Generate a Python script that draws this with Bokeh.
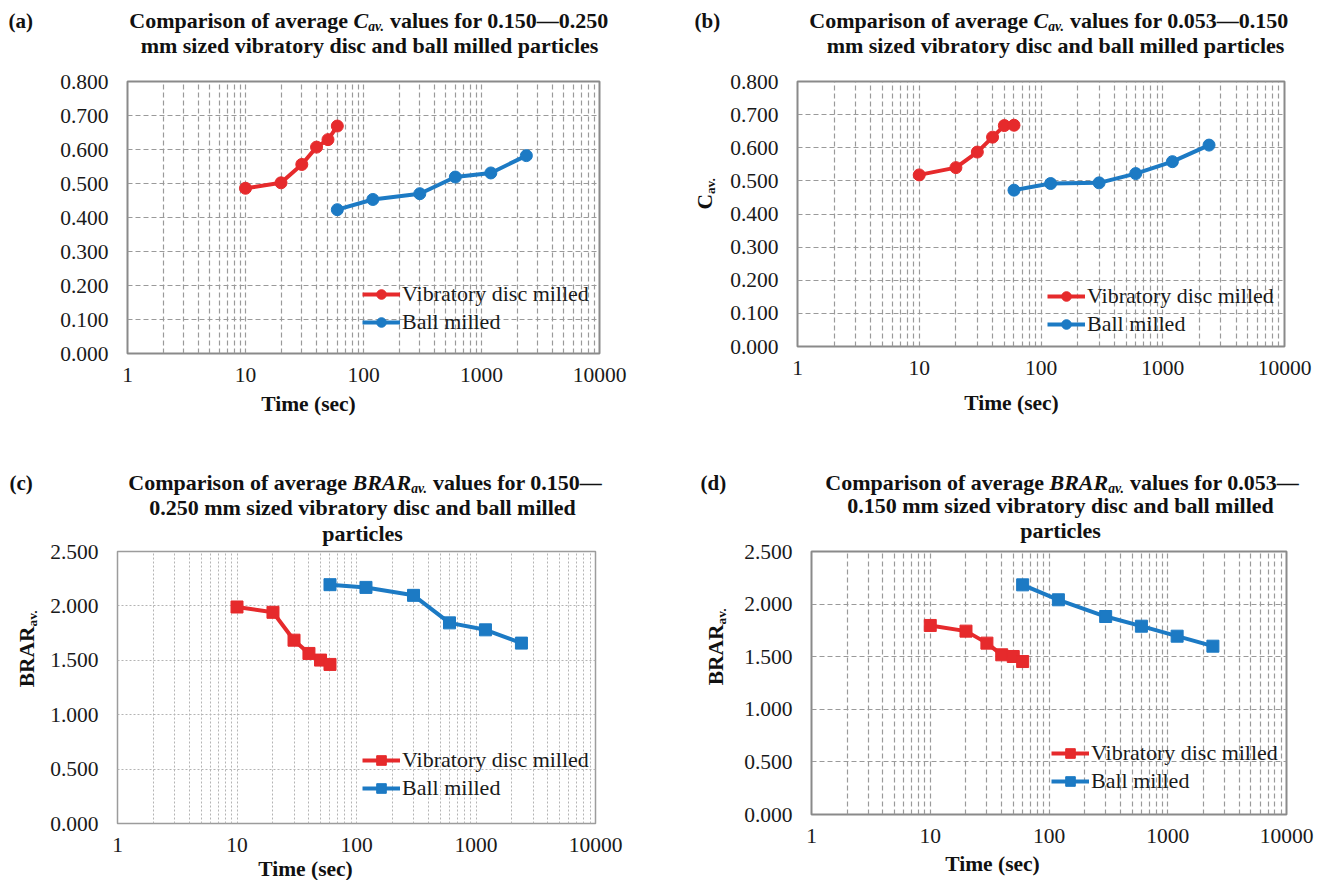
import math
from bokeh.plotting import figure
from bokeh.models import (FixedTicker, NumeralTickFormatter, PrintfTickFormatter,
                          Label, Legend, LegendItem, Range1d)
from bokeh.layouts import column, row
from bokeh.embed import file_html
from bokeh.resources import INLINE

# ---------------- data ----------------
time_vdm = [10, 20, 30, 40, 50, 60]
time_bm = [60, 120, 300, 600, 1200, 2400]

cav_a_vdm = [0.486, 0.502, 0.556, 0.607, 0.629, 0.669]
cav_a_bm = [0.423, 0.453, 0.470, 0.519, 0.531, 0.582]
cav_b_vdm = [0.518, 0.540, 0.587, 0.632, 0.667, 0.668]
cav_b_bm = [0.472, 0.492, 0.494, 0.522, 0.558, 0.608]
brar_c_vdm = [1.990, 1.941, 1.685, 1.563, 1.502, 1.462]
brar_c_bm = [2.195, 2.170, 2.097, 1.844, 1.780, 1.658]
brar_d_vdm = [1.797, 1.743, 1.629, 1.518, 1.502, 1.454]
brar_d_bm = [2.183, 2.041, 1.882, 1.790, 1.695, 1.600]

x_major = [1, 10, 100, 1000, 10000]
x_minor = [m * 10 ** e for e in range(4) for m in range(2, 10)]
cav_ticks = [0.0, 0.1, 0.2, 0.3, 0.4, 0.5, 0.6, 0.7, 0.8]
brar_ticks = [0.0, 0.5, 1.0, 1.5, 2.0, 2.5]
series_names = ["Vibratory disc milled", "Ball milled"]

RED = "#E62A2C"
BLUE = "#1C7AC4"
FONT = "Liberation Serif"
TXT = "#111111"

# approximate advance widths (per 1000 em) of Times-like bold faces
BOLD = {' ': 250, '(': 333, ')': 333, '.': 250, '\u2014': 1000, '-': 333}
for d in "0123456789":
    BOLD[d] = 500
BOLD.update(dict(A=722, B=667, C=722, D=722, E=667, F=611, G=778, H=778, I=389, J=500,
                 K=778, L=667, M=944, N=722, O=778, P=611, Q=778, R=722, S=556, T=667,
                 U=722, V=722, W=1000, X=722, Y=722, Z=667))
BOLD.update(dict(a=500, b=556, c=444, d=556, e=444, f=333, g=500, h=556, i=278, j=333,
                 k=556, l=278, m=833, n=556, o=500, p=556, q=556, r=444, s=389, t=333,
                 u=556, v=500, w=722, x=500, y=500, z=444))
BOLDIT = dict(BOLD)
BOLDIT.update({'A': 667, 'B': 667, 'C': 667, 'R': 667, 'a': 500, 'v': 444, '.': 250})


def tw(text, style, px):
    table = BOLDIT if "italic" in style else BOLD
    return sum(table.get(c, 500) for c in text) * px / 1000.0


# ---------------- full-page transparent text layer ----------------
PAGE_W, PAGE_H = 1325, 880
ov = figure(width=PAGE_W, height=PAGE_H, x_range=Range1d(0, PAGE_W),
            y_range=Range1d(PAGE_H, 0), x_axis_type=None, y_axis_type=None,
            output_backend="svg", toolbar_location=None,
            min_border_left=0, min_border_right=0, min_border_top=0, min_border_bottom=0,
            styles={"position": "absolute", "top": "0px", "left": "0px",
                    "z-index": "10", "pointer-events": "none"})
ov.outline_line_color = None
ov.background_fill_alpha = 0
ov.border_fill_alpha = 0
ov.grid.visible = False


def label(text, gx, gy, size, style="bold", align="left", angle=0.0):
    ov.add_layout(Label(x=gx, y=gy, text=text, text_font=FONT,
                        text_font_size=f"{size:.1f}px", text_font_style=style,
                        text_color=TXT, text_align=align, text_baseline="middle",
                        angle=angle))


def title_line1(lead, word, tail, anchor, cy, size, sub_scale=0.62, sub_dy=6):
    """lead (bold) | word (bold italic) + 'av.' subscript | tail (bold)"""
    space = tw(" ", "bold", size)
    label(lead, anchor - space, cy, size, align="right")
    label(word, anchor, cy, size, style="bold italic")
    x = anchor + tw(word, "bold italic", size)
    label("av.", x, cy + sub_dy, size * sub_scale, style="bold italic")
    x += tw("av.", "bold italic", size * sub_scale)
    label(tail, x + space, cy, size)


def rich_v(word, cx, cy, size, sub_scale=0.62, sub_dx=6):
    w1 = tw(word, "bold", size)
    w2 = tw("av.", "bold", size * sub_scale)
    ybot = cy + (w1 + w2) / 2.0
    label(word, cx, ybot, size, angle=math.pi / 2)
    label("av.", cx + sub_dx, ybot - w1, size * sub_scale, angle=math.pi / 2)


def make_panel(W, H, borders, yr, yticks, vdm, bm, marker, grid_style, legend_loc):
    left, right, top, bottom = borders
    p = figure(width=W, height=H, x_axis_type="log", output_backend="svg",
               toolbar_location=None, x_range=Range1d(1, 10000), y_range=Range1d(*yr),
               min_border_left=left, min_border_right=right,
               min_border_top=top, min_border_bottom=bottom)
    p.background_fill_color = "white"
    p.border_fill_color = "white"
    gcol, gdash, gw, ocol, ow = grid_style
    p.outline_line_color = ocol
    p.outline_line_width = ow

    p.xaxis.ticker = FixedTicker(ticks=x_major, minor_ticks=x_minor)
    p.xaxis.formatter = PrintfTickFormatter(format="%d")
    p.yaxis.ticker = FixedTicker(ticks=yticks)
    p.yaxis.formatter = NumeralTickFormatter(format="0.000")
    for ax in (p.xaxis, p.yaxis):
        ax.axis_line_color = None
        ax.major_tick_line_color = None
        ax.minor_tick_line_color = None
        ax.major_tick_out = 0
        ax.minor_tick_out = 0
        ax.major_label_text_font = FONT
        ax.major_label_text_font_size = "21.5px"
        ax.major_label_text_color = "#1a1a1a"
    p.xaxis.major_label_standoff = 14
    p.yaxis.major_label_standoff = 19

    p.xgrid.ticker = FixedTicker(ticks=x_major, minor_ticks=x_minor)
    p.xgrid.grid_line_color = gcol
    p.xgrid.grid_line_dash = gdash
    p.xgrid.grid_line_width = gw
    p.xgrid.minor_grid_line_color = gcol
    p.xgrid.minor_grid_line_dash = gdash
    p.xgrid.minor_grid_line_width = gw
    p.ygrid.ticker = FixedTicker(ticks=yticks)
    p.ygrid.grid_line_color = gcol
    p.ygrid.grid_line_dash = gdash
    p.ygrid.grid_line_width = gw

    l1 = p.line(time_vdm, vdm, line_width=4, color=RED)
    s1 = p.scatter(time_vdm, vdm, marker=marker, size=12, color=RED)
    l2 = p.line(time_bm, bm, line_width=4, color=BLUE)
    s2 = p.scatter(time_bm, bm, marker=marker, size=12, color=BLUE)

    legend = Legend(items=[LegendItem(label=series_names[0], renderers=[l1, s1]),
                           LegendItem(label=series_names[1], renderers=[l2, s2])],
                    location=legend_loc, background_fill_alpha=0, border_line_color=None,
                    padding=0, margin=0, spacing=2, glyph_width=38, glyph_height=24,
                    label_height=24, label_standoff=2,
                    label_text_font=FONT, label_text_font_size="22px",
                    label_text_color="#1a1a1a")
    p.add_layout(legend)
    return p


STRONG = ("#9a9a9a", "5 3", 1.2, "#8a8a8a", 2)
LIGHT = ("#b4b4b4", "2 2", 1, "#9c9c9c", 1.5)
TS = 22      # title font size
AS = 21.5    # axis title font size

# Row 1 starts at page y=0, row 2 at page y=447 (frames in a row share borders)
pa = make_panel(660, 447, (127, 61, 81, 94), (0, 0.8), cav_ticks, cav_a_vdm, cav_a_bm,
                "circle", STRONG, (235, 18))
pb = make_panel(665, 440, (137, 41, 81, 94), (0, 0.8), cav_ticks, cav_b_vdm, cav_b_bm,
                "circle", STRONG, (250, 9))
pc = make_panel(660, 433, (117, 65, 104, 57), (0, 2.5), brar_ticks, brar_c_vdm, brar_c_bm,
                "square", LIGHT, (245, 22))
pd = make_panel(665, 424, (151, 39, 104, 57), (0, 2.5), brar_ticks, brar_d_vdm, brar_d_bm,
                "square", STRONG, (240, 20))

# ---------- (a) texts ----------
label("(a)", 8, 20, 21)
title_line1("Comparison of average", "C", "values for 0.150\u20140.250", 353, 20, TS)
label("mm sized vibratory disc and ball milled particles", 369, 45, TS, align="center")
label("Time (sec)", 308, 403, AS, align="center")

# ---------- (b) texts ----------
label("(b)", 694, 20, 21)
title_line1("Comparison of average", "C", "values for 0.053\u20140.150", 1033, 20, TS)
label("mm sized vibratory disc and ball milled particles", 1055, 45, TS, align="center")
label("Time (sec)", 1011, 402, AS, align="center")
rich_v("C", 704, 193, AS)

# ---------- (c) texts ----------
label("(c)", 9, 482, 21)
title_line1("Comparison of average", "BRAR", "values for 0.150\u2014", 352, 482, TS)
label("0.250 mm sized vibratory disc and ball milled", 362, 507, TS, align="center")
label("particles", 362, 533, TS, align="center")
label("Time (sec)", 305, 868, AS, align="center")
rich_v("BRAR", 26, 648, AS)

# ---------- (d) texts ----------
label("(d)", 700, 482, 21)
title_line1("Comparison of average", "BRAR", "values for 0.053\u2014", 1049, 482, TS)
label("0.150 mm sized vibratory disc and ball milled", 1060, 505, TS, align="center")
label("particles", 1060, 530, TS, align="center")
label("Time (sec)", 992, 863, AS, align="center")
rich_v("BRAR", 715, 646, AS)

layout = column(row(pa, pb), row(pc, pd), ov)
open("out.html", "w").write(file_html(layout, INLINE))
